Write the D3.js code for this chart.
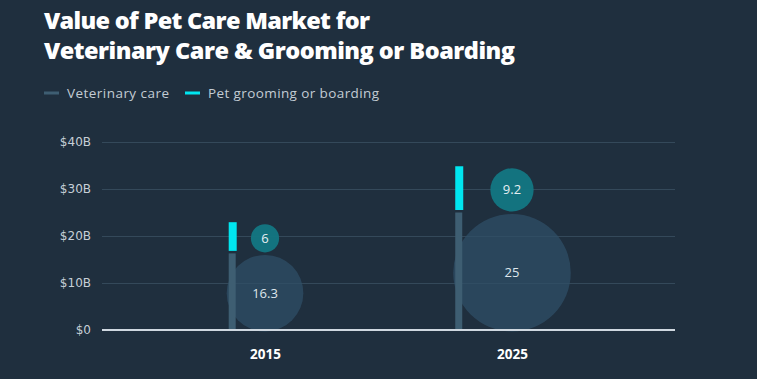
<!DOCTYPE html>
<html><head><meta charset="utf-8">
<script src="https://cdn.jsdelivr.net/npm/d3@7/dist/d3.min.js"></script>
<style>
html,body{margin:0;padding:0;background:#1f2f3e;}
svg{display:block;}
</style></head>
<body><svg id="c" width="757" height="379"></svg>
<script>
const years = ["2015", "2025"];
const veterinary = [16.3, 25];
const grooming = [6, 9.2];
const yTicks = [0, 10, 20, 30, 40];
const yTickLabels = ["$0", "$10B", "$20B", "$30B", "$40B"];
const titleLines = ["Value of Pet Care Market for", "Veterinary Care & Grooming or Boarding"];
const seriesNames = ["Veterinary care", "Pet grooming or boarding"];

const svg = d3.select("#c");
const W = 757, H = 379;
svg.append("rect").attr("width", W).attr("height", H).attr("fill", "#1f2f3e");

const colVet = "#3e5e72", colVetCircle = "#2f4f67", colGroom = "#00e6f0", colGroomCircle = "#137783";

function fit(sel, target) {
  sel.each(function () {
    const len = this.getComputedTextLength();
    const n = this.textContent.length;
    if (n > 1) d3.select(this).attr("letter-spacing", ((target - len) / (n - 1)).toFixed(3));
  });
}

// title
const titleW = [326, 471];
svg.selectAll("text.title").data(titleLines).join("text").attr("class", "title")
  .attr("x", 44).attr("y", (d, i) => 28.5 + i * 30)
  .attr("fill", "#ffffff").attr("font-family", "'Open Sans', sans-serif").attr("font-weight", 800)
  .attr("font-size", 23.5).text(d => d)
  .each(function (d, i) { fit(d3.select(this), titleW[i]); });

// legend
const legX = [44, 185];
const legW = [102, 171];
const legColors = [colVet, colGroom];
const leg = svg.append("g");
seriesNames.forEach((n, i) => {
  leg.append("line").attr("x1", legX[i]).attr("x2", legX[i] + 15).attr("y1", 93).attr("y2", 93)
    .attr("stroke", legColors[i]).attr("stroke-width", 3);
  const t = leg.append("text").attr("x", legX[i] + 23).attr("y", 97.5).attr("fill", "#c3ccd4")
    .attr("font-family", "'Open Sans', sans-serif").attr("font-size", 13.5).text(n);
  fit(t, legW[i]);
});

const left = 102, right = 675;
const y = d3.scaleLinear().domain([0, 40]).range([330, 142]);
const x = d3.scalePoint().domain(years).range([left, right]).padding(0.66);

// grid
const yAxis = d3.axisLeft(y).tickValues(yTicks).tickSize(-(right - left))
  .tickFormat((d, i) => yTickLabels[i]).tickPadding(11);
const gy = svg.append("g").attr("transform", `translate(${left},0)`).call(yAxis);
gy.select(".domain").remove();
gy.selectAll(".tick line").attr("stroke", "#34495a").attr("stroke-width", 1.2);
gy.selectAll(".tick text").attr("fill", "#c6cfd7").attr("font-family", "'DejaVu Sans', sans-serif").attr("font-size", 12);

const k = (y(0) - y(1)); // px per unit

years.forEach((yr, i) => {
  const cx = x(yr);
  const v = veterinary[i], g = grooming[i];
  const rV = v * k / 2, rG = g * k / 2;
  const bx = cx - rV + 2;
  const gap = 2.5;
  // circles
  svg.append("circle").attr("cx", cx).attr("cy", (y(0) + y(v)) / 2 + 1.5).attr("r", rV)
    .attr("fill", colVetCircle).attr("fill-opacity", 0.75);
  svg.append("circle").attr("cx", cx).attr("cy", (y(v) + y(v + g)) / 2 - 1).attr("r", rG)
    .attr("fill", colGroomCircle).attr("fill-opacity", 0.95);
  // bars
  svg.append("rect").attr("x", bx).attr("y", y(v)).attr("width", 7).attr("height", y(0) - y(v))
    .attr("fill", colVet);
  svg.append("rect").attr("x", bx).attr("y", y(v + g) - 3).attr("width", 8).attr("height", y(v) - y(v + g) - gap + 3)
    .attr("fill", colGroom);
  // labels
  svg.append("text").attr("x", cx).attr("y", (y(0) + y(v)) / 2 + 6).attr("text-anchor", "middle")
    .attr("fill", "#dfe6ec").attr("font-family", "'Open Sans', sans-serif").attr("font-size", 13).text(v);
  svg.append("text").attr("x", cx).attr("y", (y(v) + y(v + g)) / 2 + 3.5).attr("text-anchor", "middle")
    .attr("fill", "#e6eef2").attr("font-family", "'Open Sans', sans-serif").attr("font-size", 13).text(g);
});

// baseline
svg.append("line").attr("x1", left).attr("x2", right).attr("y1", y(0)).attr("y2", y(0))
  .attr("stroke", "#cfd8e0").attr("stroke-width", 2);

// x axis labels
const xAxis = d3.axisBottom(x).tickSize(0).tickPadding(19);
const gx = svg.append("g").attr("transform", `translate(0,${y(0)})`).call(xAxis);
gx.select(".domain").remove();
gx.selectAll(".tick text").attr("fill", "#ffffff").attr("font-family", "'Open Sans', sans-serif")
  .attr("font-weight", 700).attr("font-size", 13.5);
</script></body></html>
